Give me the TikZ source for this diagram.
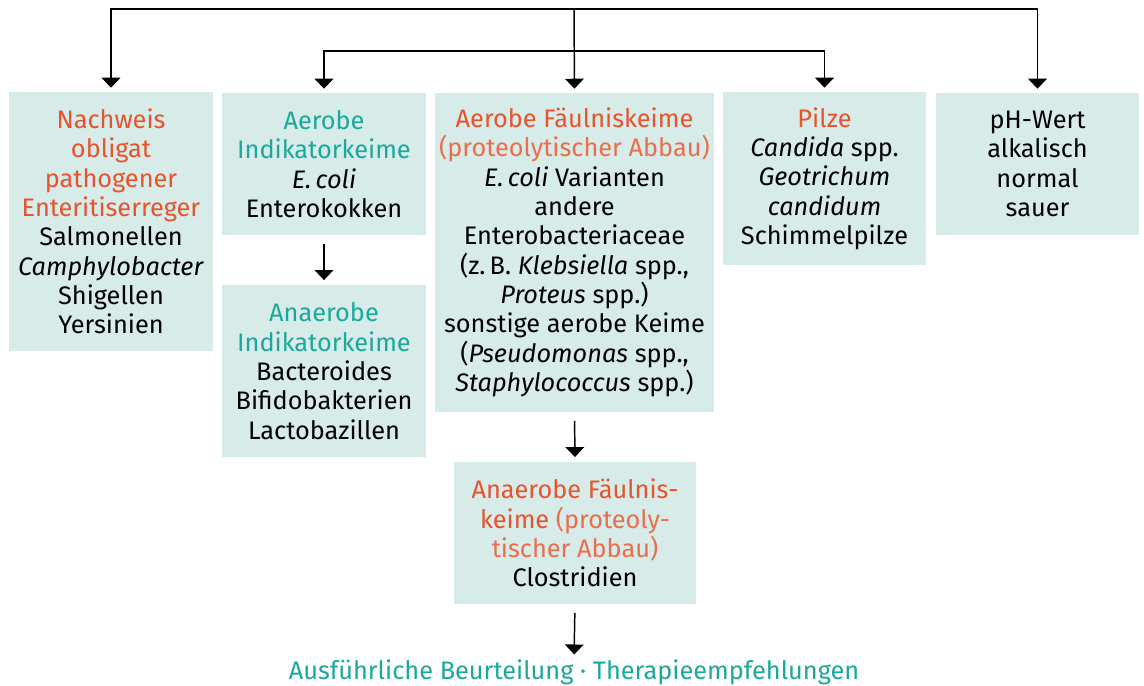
\documentclass[tikz,border=0pt]{standalone}
\usepackage{fontspec}
\setmainfont{Fira Sans}
\usetikzlibrary{arrows.meta, positioning}
\definecolor{boxfill}{RGB}{215,235,233}
\definecolor{keimorange}{RGB}{232,83,43}
\definecolor{keimteal}{RGB}{26,168,156}

\begin{document}
\begin{tikzpicture}[
  x=0.75pt, y=-0.75pt,
  kbox/.style={fill=boxfill, inner sep=0pt, align=center, font=\fontsize{19}{22}\selectfont},
  arr/.style={-{Triangle[width=14pt, length=7.5pt]}, line width=1.1pt, shorten >=3pt},
  varr/.style={arr, shorten <=6.5pt, shorten >=3.5pt}
]
  \useasboundingbox (0,0) rectangle (1144,685);

  % obere Reihe
  \node[kbox, minimum width=153pt, minimum height=194.25pt] (b1) at (111,221.5)
    {\textcolor{keimorange}{Nachweis}\\ \textcolor{keimorange}{obligat}\\ \textcolor{keimorange}{pathogener}\\ \textcolor{keimorange}{Enteritiserreger}\\ Salmonellen\\ \textit{Camphylobacter}\\ Shigellen\\ Yersinien};
  \node[kbox, minimum width=153pt, minimum height=106.5pt] (b2) at (324,164)
    {\textcolor{keimteal}{Aerobe}\\ \textcolor{keimteal}{Indikatorkeime}\\ \textit{E.\,coli}\\ Enterokokken};
  \node[kbox, minimum width=209.25pt, minimum height=239.25pt] (b4) at (574.5,252.5)
    {\textcolor{keimorange}{Aerobe Fäulniskeime}\\ \textcolor{keimorange!85}{(proteolytischer Abbau)}\\ \textit{E.\,coli} Varianten\\ andere\\ Enterobacteriaceae\\ (z.\,B. \textit{Klebsiella} spp.,\\ \textit{Proteus} spp.)\\ sonstige aerobe Keime\\ (\textit{Pseudomonas} spp.,\\ \textit{Staphylococcus} spp.)};
  \node[kbox, minimum width=152.25pt, minimum height=129.75pt] (b6) at (824.5,178.5)
    {\textcolor{keimorange}{Pilze}\\ \textit{Candida} spp.\\ \textit{Geotrichum}\\ \textit{candidum}\\ Schimmelpilze};
  \node[kbox, minimum width=152.25pt, minimum height=106.5pt] (b7) at (1037.5,164)
    {pH-Wert\\ alkalisch\\ normal\\ sauer};

  % untere Reihe
  \node[kbox, minimum width=153pt, minimum height=129pt] (b3) at (324,371)
    {\textcolor{keimteal}{Anaerobe}\\ \textcolor{keimteal}{Indikatorkeime}\\ Bacteroides\\ Bifidobakterien\\ Lactobazillen};
  \node[kbox, minimum width=181.5pt, minimum height=106.5pt] (b5) at (575,533)
    {\textcolor{keimorange}{Anaerobe Fäulnis-}\\ \textcolor{keimorange}{keime} \textcolor{keimorange!85}{(proteoly-}\\ \textcolor{keimorange!85}{tischer Abbau)}\\ Clostridien};
  \node[font=\fontsize{19}{22}\selectfont, text=keimteal, inner sep=0pt] (fazit) at (574,672)
    {Ausführliche Beurteilung · Therapieempfehlungen};

  % Verteiler
  \coordinate (hub) at (574,9);
  \coordinate (hub2) at (574,51);
  \draw[arr] (hub) -| (b1.north);
  \draw[arr] (hub) -| (b7.north);
  \draw[arr] (hub) -- (b4.north);
  \draw[arr] (hub2) -| (b2.north);
  \draw[arr] (hub2) -| (b6.north);

  \draw[varr] (b2.south) -- (b3.north);
  \draw[varr] (b4.south) -- (b5.north);
  \draw[varr] (b5.south) -- (fazit.north);
\end{tikzpicture}
\end{document}
